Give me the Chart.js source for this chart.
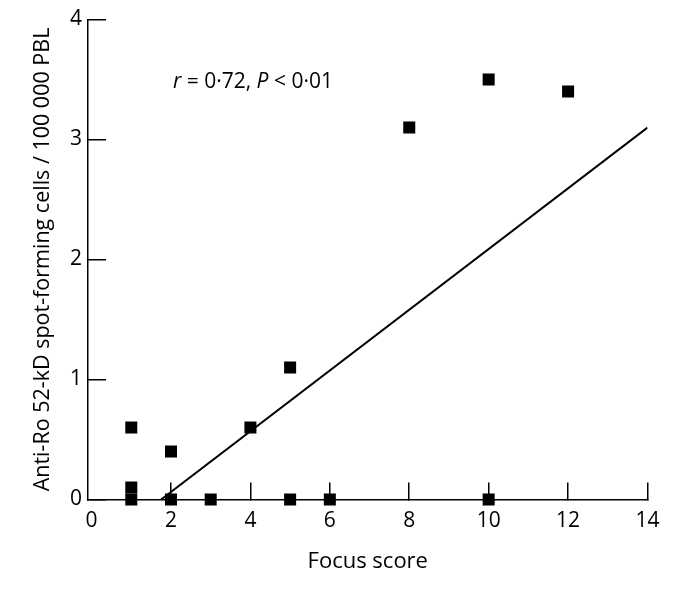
<!DOCTYPE html>
<html>
<head>
<meta charset="utf-8">
<script src="https://cdn.jsdelivr.net/npm/chart.js@4/dist/chart.umd.min.js"></script>
<style>
  html, body { margin: 0; padding: 0; background: #fff; }
  #wrap { width: 694px; height: 589px; }
</style>
</head>
<body>
<div id="wrap"><canvas id="c" width="694" height="589"></canvas></div>
<script>
// ---- data ----
const focusScore = [1, 1, 1, 2, 2, 3, 4, 5, 5, 6, 8, 10, 10, 12];
const spotCells  = [0.6, 0.1, 0, 0.4, 0, 0, 0.6, 1.1, 0, 0, 3.1, 3.5, 0, 3.4];
const fitLineX = [1.75, 14];
const fitLineY = [0, 3.1];
const xTickValues = [0, 2, 4, 6, 8, 10, 12, 14];
const yTickValues = [0, 1, 2, 3, 4];
const xTitle = 'Focus score';
const yTitle = 'Anti-Ro 52-kD spot-forming cells / 100 000 PBL';
const statParts = [
  { text: 'r', italic: true },
  { text: ' = 0\u00B772, ', italic: false },
  { text: 'P', italic: true },
  { text: ' < 0\u00B701', italic: false }
];
const statAnchor = { x: 2.05, y: 3.43 };

const FONT = '"Open Sans", "Liberation Sans", Arial, sans-serif';

const scatterData = focusScore.map((x, i) => ({ x: x, y: spotCells[i] }));
const lineData = fitLineX.map((x, i) => ({ x: x, y: fitLineY[i] }));

const whiteBg = {
  id: 'whiteBg',
  beforeDraw(chart) {
    const ctx = chart.ctx;
    ctx.save();
    ctx.fillStyle = '#fff';
    ctx.fillRect(0, 0, chart.width, chart.height);
    ctx.restore();
  }
};

const statText = {
  id: 'statText',
  afterDatasetsDraw(chart) {
    const ctx = chart.ctx;
    const xs = chart.scales.x, ys = chart.scales.y;
    let px = xs.getPixelForValue(statAnchor.x);
    const py = ys.getPixelForValue(statAnchor.y);
    ctx.save();
    ctx.fillStyle = '#000';
    ctx.textBaseline = 'alphabetic';
    ctx.textAlign = 'left';
    statParts.forEach(p => {
      ctx.font = (p.italic ? 'italic ' : '') + '21px ' + FONT;
      ctx.fillText(p.text, px, py);
      px += ctx.measureText(p.text).width;
    });
    ctx.restore();
  }
};

new Chart(document.getElementById('c'), {
  type: 'scatter',
  data: {
    datasets: [
      {
        label: 'data',
        data: scatterData,
        pointStyle: 'rect',
        pointRadius: 8.5,
        pointHoverRadius: 8.5,
        backgroundColor: '#000',
        borderColor: '#000',
        borderWidth: 0,
        clip: false
      },
      {
        label: 'fit',
        type: 'line',
        data: lineData,
        borderColor: '#000',
        borderWidth: 2,
        pointRadius: 0,
        fill: false,
        tension: 0
      }
    ]
  },
  plugins: [whiteBg, statText],
  options: {
    responsive: false,
    animation: false,
    devicePixelRatio: 1,
    layout: { padding: { left: 0, top: 19.5, right: 46.5, bottom: 0 } },
    plugins: {
      legend: { display: false },
      tooltip: { enabled: false }
    },
    scales: {
      x: {
        type: 'linear',
        min: -0.09,
        max: 14,
        afterBuildTicks(scale) { scale.ticks = xTickValues.map(v => ({ value: v })); },
        afterFit(scale) {
          scale.height = 89.5;
          scale.paddingLeft = 0; scale.paddingRight = 0;
        },
        border: { display: true, color: '#000', width: 1.5 },
        grid: {
          drawOnChartArea: false,
          drawTicks: true,
          tickLength: -17,
          lineWidth: 1.5,
          color: ctx => (ctx.tick && ctx.tick.value === 0) ? 'rgba(0,0,0,0)' : '#000'
        },
        ticks: {
          color: '#000',
          padding: 26,
          font: { family: FONT, size: 21 },
          maxRotation: 0
        },
        title: {
          display: true,
          text: xTitle,
          color: '#000',
          font: { family: FONT, size: 22 },
          padding: { top: 0, bottom: 14 }
        }
      },
      y: {
        type: 'linear',
        min: 0,
        max: 4,
        afterBuildTicks(scale) { scale.ticks = yTickValues.map(v => ({ value: v })); },
        afterFit(scale) {
          scale.width = 88;
          scale.paddingTop = 0; scale.paddingBottom = 0;
        },
        border: { display: true, color: '#000', width: 1.5 },
        grid: {
          drawOnChartArea: false,
          drawTicks: true,
          tickLength: -18,
          lineWidth: 1.5,
          color: '#000'
        },
        ticks: {
          color: '#000',
          padding: 24,
          font: { family: FONT, size: 21 }
        },
        title: {
          display: true,
          text: yTitle,
          color: '#000',
          font: { family: FONT, size: 21.5 },
          padding: { top: 30, bottom: 0 }
        }
      }
    }
  }
});
</script>
</body>
</html>
